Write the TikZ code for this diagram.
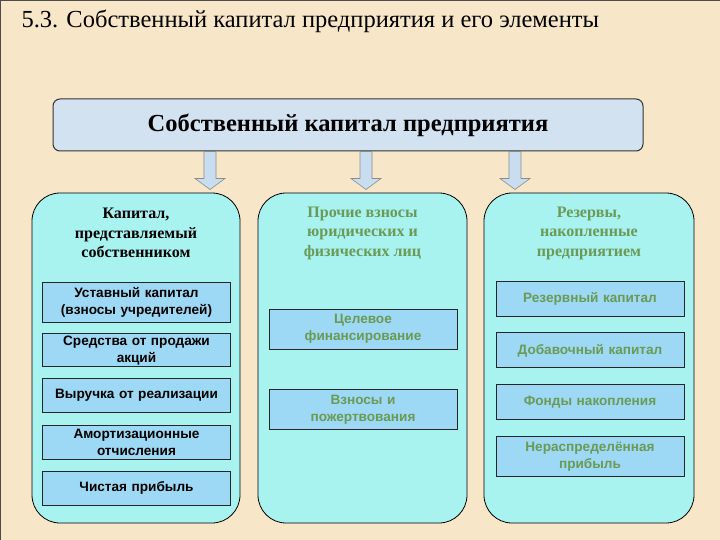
\documentclass[tikz,border=0pt]{standalone}
\usepackage{fontspec}
\setmainfont{Liberation Serif}
\setsansfont{Liberation Sans}
\usepackage{tikz}
\usetikzlibrary{positioning}
\definecolor{paper}{HTML}{F7E6C8}
\definecolor{topfill}{HTML}{D2E2F0}
\definecolor{colfill}{HTML}{A8F2F0}
\definecolor{itemfill}{HTML}{9DD9F4}
\definecolor{arrowfill}{HTML}{C9DDF1}
\definecolor{greentext}{HTML}{6A9A55}

\begin{document}
\begin{tikzpicture}[x=1pt, y=-1pt,
		column/.style={draw=black, line width=.8pt, fill=colfill, rounded corners=28pt, minimum width=208pt, minimum height=330pt},
		header/.style={font=\fontsize{16}{19.5}\selectfont\bfseries, align=center},
		item/.style={draw=black!85, line width=.8pt, fill=itemfill, minimum width=188pt, text width=186pt, inner sep=0pt, align=center, font=\sffamily\bfseries\fontsize{13.6}{17}\selectfont},
		blockarrow/.style={draw=black!45, line width=.6pt, fill=arrowfill}]
	\useasboundingbox (0,0) rectangle (720,540);
	\fill[paper] (0,0) rectangle (720,540);
	\draw[black!70, line width=1pt] (.5,540) -- (.5,.5) -- (720,.5);
	\node[anchor=west, font=\fontsize{24.5}{28}\selectfont] (title) at (18,21) {5.3. Собственный капитал предприятия и его элементы};
	\node[draw=black!80, line width=1pt, fill=topfill, rounded corners=7pt, minimum width=590pt, minimum height=52pt, font=\fontsize{24.5}{28}\selectfont\bfseries] (top) at (348,125) {\raisebox{-2pt}{Собственный капитал предприятия}};
	\foreach \ax in {210,366,515}
		\draw[blockarrow] (top.south -| \ax,0) ++(-6,0) -- ++(12,0) -- ++(0,27) -- ++(9,0) -- ++(-15,11) -- ++(-15,-11) -- ++(9,0) -- cycle;
	\node[column] (owner) at (136,358) {};
	\node[column, minimum width=209pt] (other) at (362.5,358) {};
	\node[column, minimum width=210pt] (reserve) at (589,358) {};
	\node[header] (ownerhead) at (136,233) {Капитал,\\представляемый\\собственником};
	\node[header, text=greentext] (otherhead) at (362.5,233) {Прочие взносы\\юридических и\\физических лиц};
	\node[header, text=greentext] (reservehead) at (589,233) {Резервы,\\накопленные\\предприятием};
	\node[item, minimum height=40pt] (charter) at (136.5,302) {Уставный капитал\\(взносы учредителей)};
	\node[item, minimum height=33pt, below=11pt of charter] (shares) {Средства от продажи\\акций};
	\node[item, minimum height=34pt, below=11pt of shares] (sales) {Выручка от реализации};
	\node[item, minimum height=34pt, below=12pt of sales] (amort) {Амортизационные\\отчисления};
	\node[item, minimum height=34pt, below=11pt of amort] (profit) {Чистая прибыль};
	\node[item, minimum height=40pt, text=greentext] (target) at (363,329) {Целевое\\финансирование};
	\node[item, minimum height=40pt, text=greentext, below=40pt of target] (gifts) {Взносы и\\пожертвования};
	\node[item, minimum height=35pt, text=greentext] (reservecap) at (590,298.5) {Резервный капитал};
	\node[item, minimum height=35pt, text=greentext, below=16pt of reservecap] (addcap) {Добавочный капитал};
	\node[item, minimum height=35pt, text=greentext, below=16pt of addcap] (funds) {Фонды накопления};
	\node[item, minimum height=40pt, text=greentext, below=16pt of funds] (retained) {Нераспределённая\\прибыль};
\end{tikzpicture}
\end{document}
